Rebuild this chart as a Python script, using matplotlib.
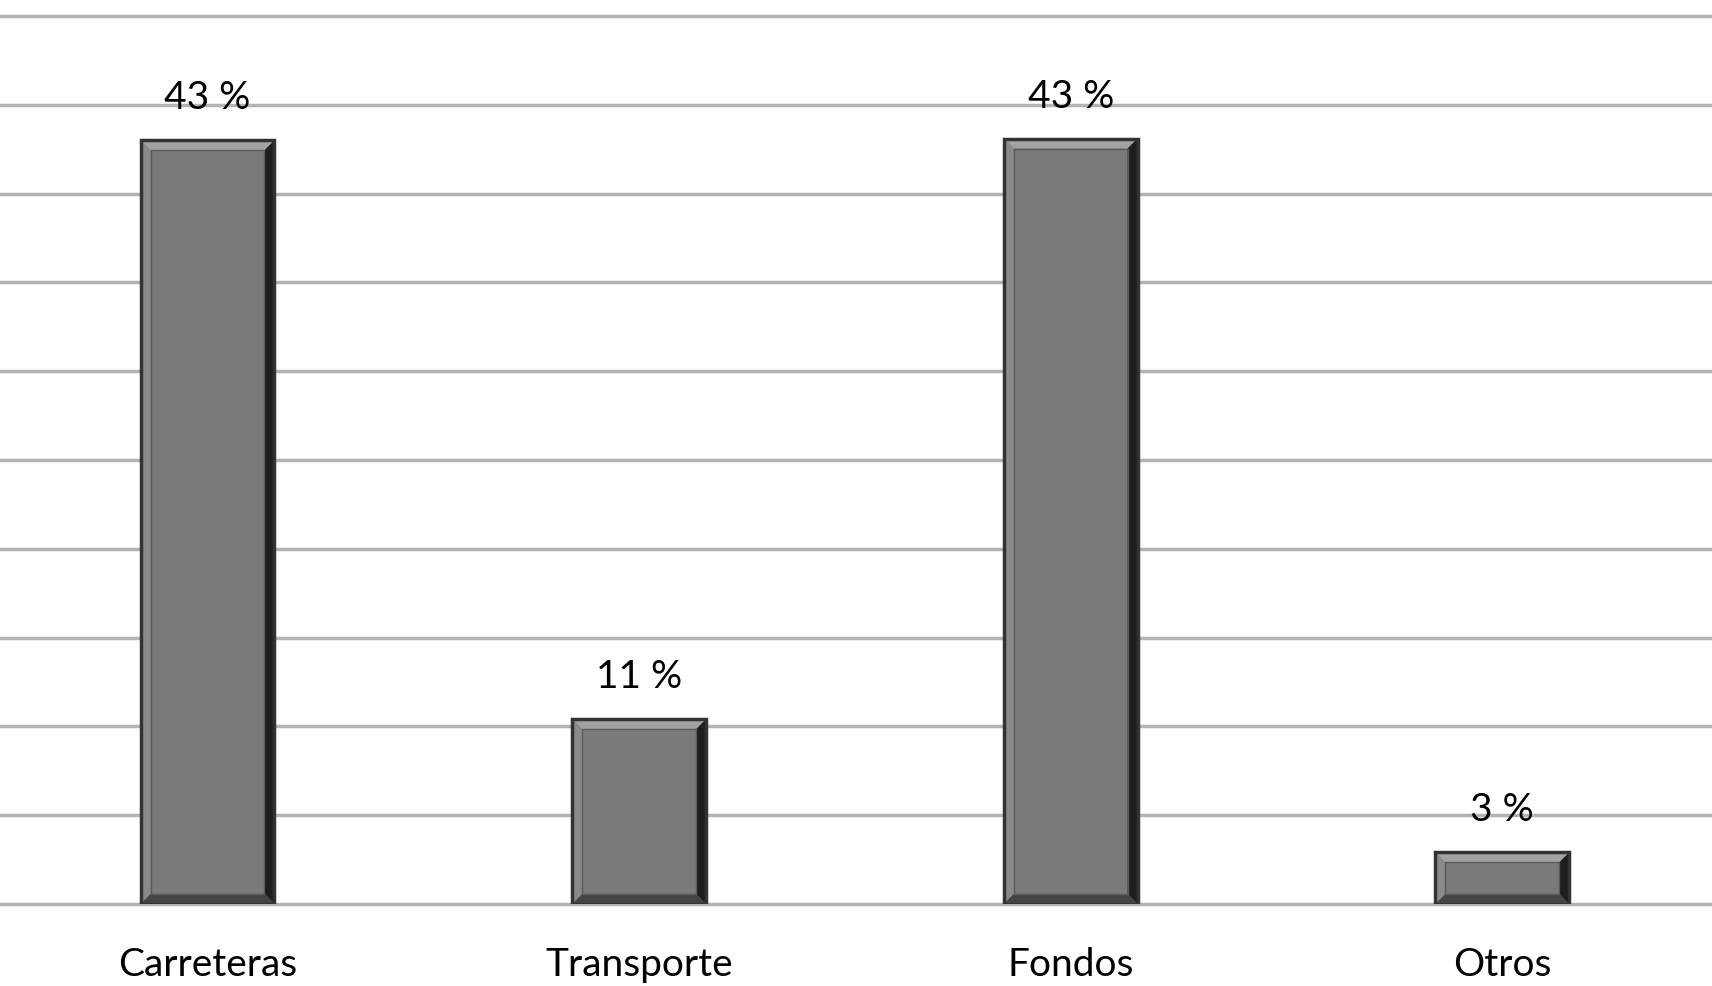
import numpy as np
import matplotlib
matplotlib.use("Agg")
import matplotlib.pyplot as plt
from matplotlib.patches import Polygon

# =========================================
# datos
# =========================================

categorias = ["Carreteras", "Transporte", "Fondos", "Otros"]
valores = [43.0, 10.4, 43.1, 2.9]
etiquetas = ["43 %", "11 %", "43 %", "3 %"]

plt.rcParams['font.family'] = ['Lato', 'DejaVu Sans']

# =========================================
# figura
# =========================================

fig = plt.figure(figsize=(17.12, 9.87), dpi=100)
ax = fig.add_axes([0, 82 / 987, 1, 898.7 / 987])

x = np.arange(len(categorias))

bars = ax.bar(
    x,
    valores,
    width=0.31,
    color='#7a7a7a',
    edgecolor='#3a3a3a',
    linewidth=2,
    zorder=3
)

ax.set_xlim(-0.481, 3.486)
ax.set_ylim(0, 50.6)

# bisel de las barras (tamaño en pixeles -> datos)
bev = 10
inv = ax.transData.inverted()
p0 = inv.transform((0, 0))
p1 = inv.transform((bev, bev))
bx = p1[0] - p0[0]
by = p1[1] - p0[1]

for b in bars:
    x0 = b.get_x()
    x1 = x0 + b.get_width()
    y0 = 0
    y1 = b.get_height()
    caras = [
        ([(x0, y1), (x1, y1), (x1 - bx, y1 - by), (x0 + bx, y1 - by)], '#a2a2a2'),
        ([(x0, y0), (x0, y1), (x0 + bx, y1 - by), (x0 + bx, y0 + by)], '#8a8a8a'),
        ([(x1, y0), (x1, y1), (x1 - bx, y1 - by), (x1 - bx, y0 + by)], '#1e1e1e'),
        ([(x0, y0), (x1, y0), (x1 - bx, y0 + by), (x0 + bx, y0 + by)], '#444444'),
    ]
    for pts, c in caras:
        ax.add_patch(Polygon(pts, closed=True, facecolor=c, edgecolor='none', zorder=4))
    # marco interior del bisel
    ax.add_patch(plt.Rectangle((x0 + bx, y0 + by), x1 - x0 - 2 * bx, y1 - y0 - 2 * by,
                               fill=False, edgecolor='#5a5a5a', linewidth=1, zorder=5))
    ax.add_patch(plt.Rectangle((x0, y0), x1 - x0, y1 - y0, fill=False,
                               edgecolor='#333333', linewidth=2.5, zorder=5))

ax.bar_label(bars, labels=etiquetas, padding=18, fontsize=28, color='#000000')

# =========================================
# ejes
# =========================================

ax.set_yticks(np.arange(0, 51, 5))
ax.set_yticklabels([])
ax.yaxis.grid(True, color='#b3b3b3', linewidth=2.5, zorder=0)
ax.set_axisbelow(True)
for ln in ax.get_ygridlines():
    ln.set_clip_on(False)

ax.set_xticks(x)
ax.set_xticklabels(categorias, fontsize=28, color='#000000')
ax.tick_params(axis='both', length=0)
ax.tick_params(axis='x', pad=30)

for s in ax.spines.values():
    s.set_visible(False)

fig.savefig("out.png", dpi=100, facecolor='white')
